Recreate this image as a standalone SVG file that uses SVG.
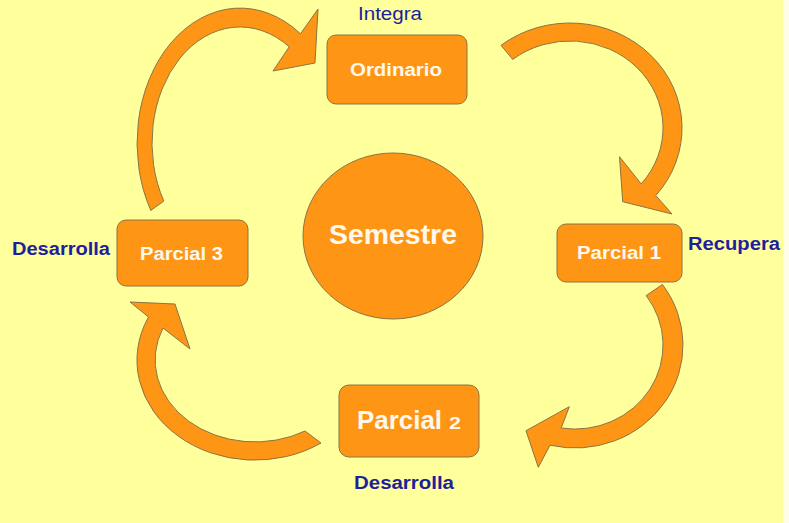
<svg xmlns="http://www.w3.org/2000/svg" width="789" height="523" viewBox="0 0 789 523">
<style>
.shape{fill:#FF9514;stroke:#8A7442;stroke-width:1}
.ntext{font-family:"Liberation Sans",Arial,sans-serif;font-weight:bold;fill:#FFF8EC}
.lbl{font-family:"Liberation Sans",Arial,sans-serif;font-weight:bold;fill:#1E1E9E;font-size:18px}
</style>
<rect x="0" y="0" width="789" height="523" fill="#FFFF9C"/>
<rect x="783" y="0" width="6" height="523" fill="#FFFDE6"/>
<g id="connectors">
<path class="shape" d="M150.8,210.5 A103,135 0 0 1 300.5,33.8 L318,9 L315,63 L273,71 L289.2,46.8 A88,116 0 0 0 163.8,201 Z"/>
<path class="shape" d="M501,45.3 A112,105 0 0 1 655.8,195.5 L672,214 L622.7,201.7 L619.5,156.7 L641.2,183.9 A93,87 0 0 0 512.7,59.4 Z"/>
<path class="shape" d="M662.4,284.5 A108,103 0 0 1 550,445.2 L538.3,467.3 L526,430.7 L569.3,406.7 L561.2,428 A88,84 0 0 0 646.2,295.6 Z"/>
<path class="shape" d="M321,443 A118,100 0 0 1 148.5,317 L130,302 L175,304 L190,349 L163,328 A100,82 0 0 0 305,431 Z"/>
</g>
<g id="semestre">
<ellipse class="shape" cx="393" cy="236" rx="90" ry="83"/>
<text class="ntext" x="329" y="244" font-size="27" textLength="128" lengthAdjust="spacingAndGlyphs">Semestre</text>
</g>
<g id="ordinario">
<rect class="shape" x="327" y="35" width="140" height="69" rx="9"/>
<text class="ntext" x="350" y="76" font-size="18" textLength="92" lengthAdjust="spacingAndGlyphs">Ordinario</text>
<text x="358" y="20" font-family="Liberation Sans, Arial, sans-serif" font-size="18" fill="#1E1E9E" textLength="64" lengthAdjust="spacingAndGlyphs">Integra</text>
</g>
<g id="parcial1">
<rect class="shape" x="557" y="224" width="125" height="58" rx="9"/>
<text class="ntext" x="577" y="259" font-size="18" textLength="84" lengthAdjust="spacingAndGlyphs">Parcial 1</text>
<text class="lbl" x="688" y="250" textLength="92" lengthAdjust="spacingAndGlyphs">Recupera</text>
</g>
<g id="parcial2">
<rect class="shape" x="339" y="385" width="140" height="72" rx="10"/>
<text class="ntext" x="357" y="429" font-size="25" textLength="85" lengthAdjust="spacingAndGlyphs">Parcial</text>
<text class="ntext" x="449" y="429" font-size="17" textLength="12" lengthAdjust="spacingAndGlyphs">2</text>
<text class="lbl" x="354" y="489" textLength="100" lengthAdjust="spacingAndGlyphs">Desarrolla</text>
</g>
<g id="parcial3">
<rect class="shape" x="117" y="220" width="131" height="66" rx="9"/>
<text class="ntext" x="140" y="260" font-size="18" textLength="83" lengthAdjust="spacingAndGlyphs">Parcial 3</text>
<text class="lbl" x="12" y="255" textLength="98" lengthAdjust="spacingAndGlyphs">Desarrolla</text>
</g>
</svg>
